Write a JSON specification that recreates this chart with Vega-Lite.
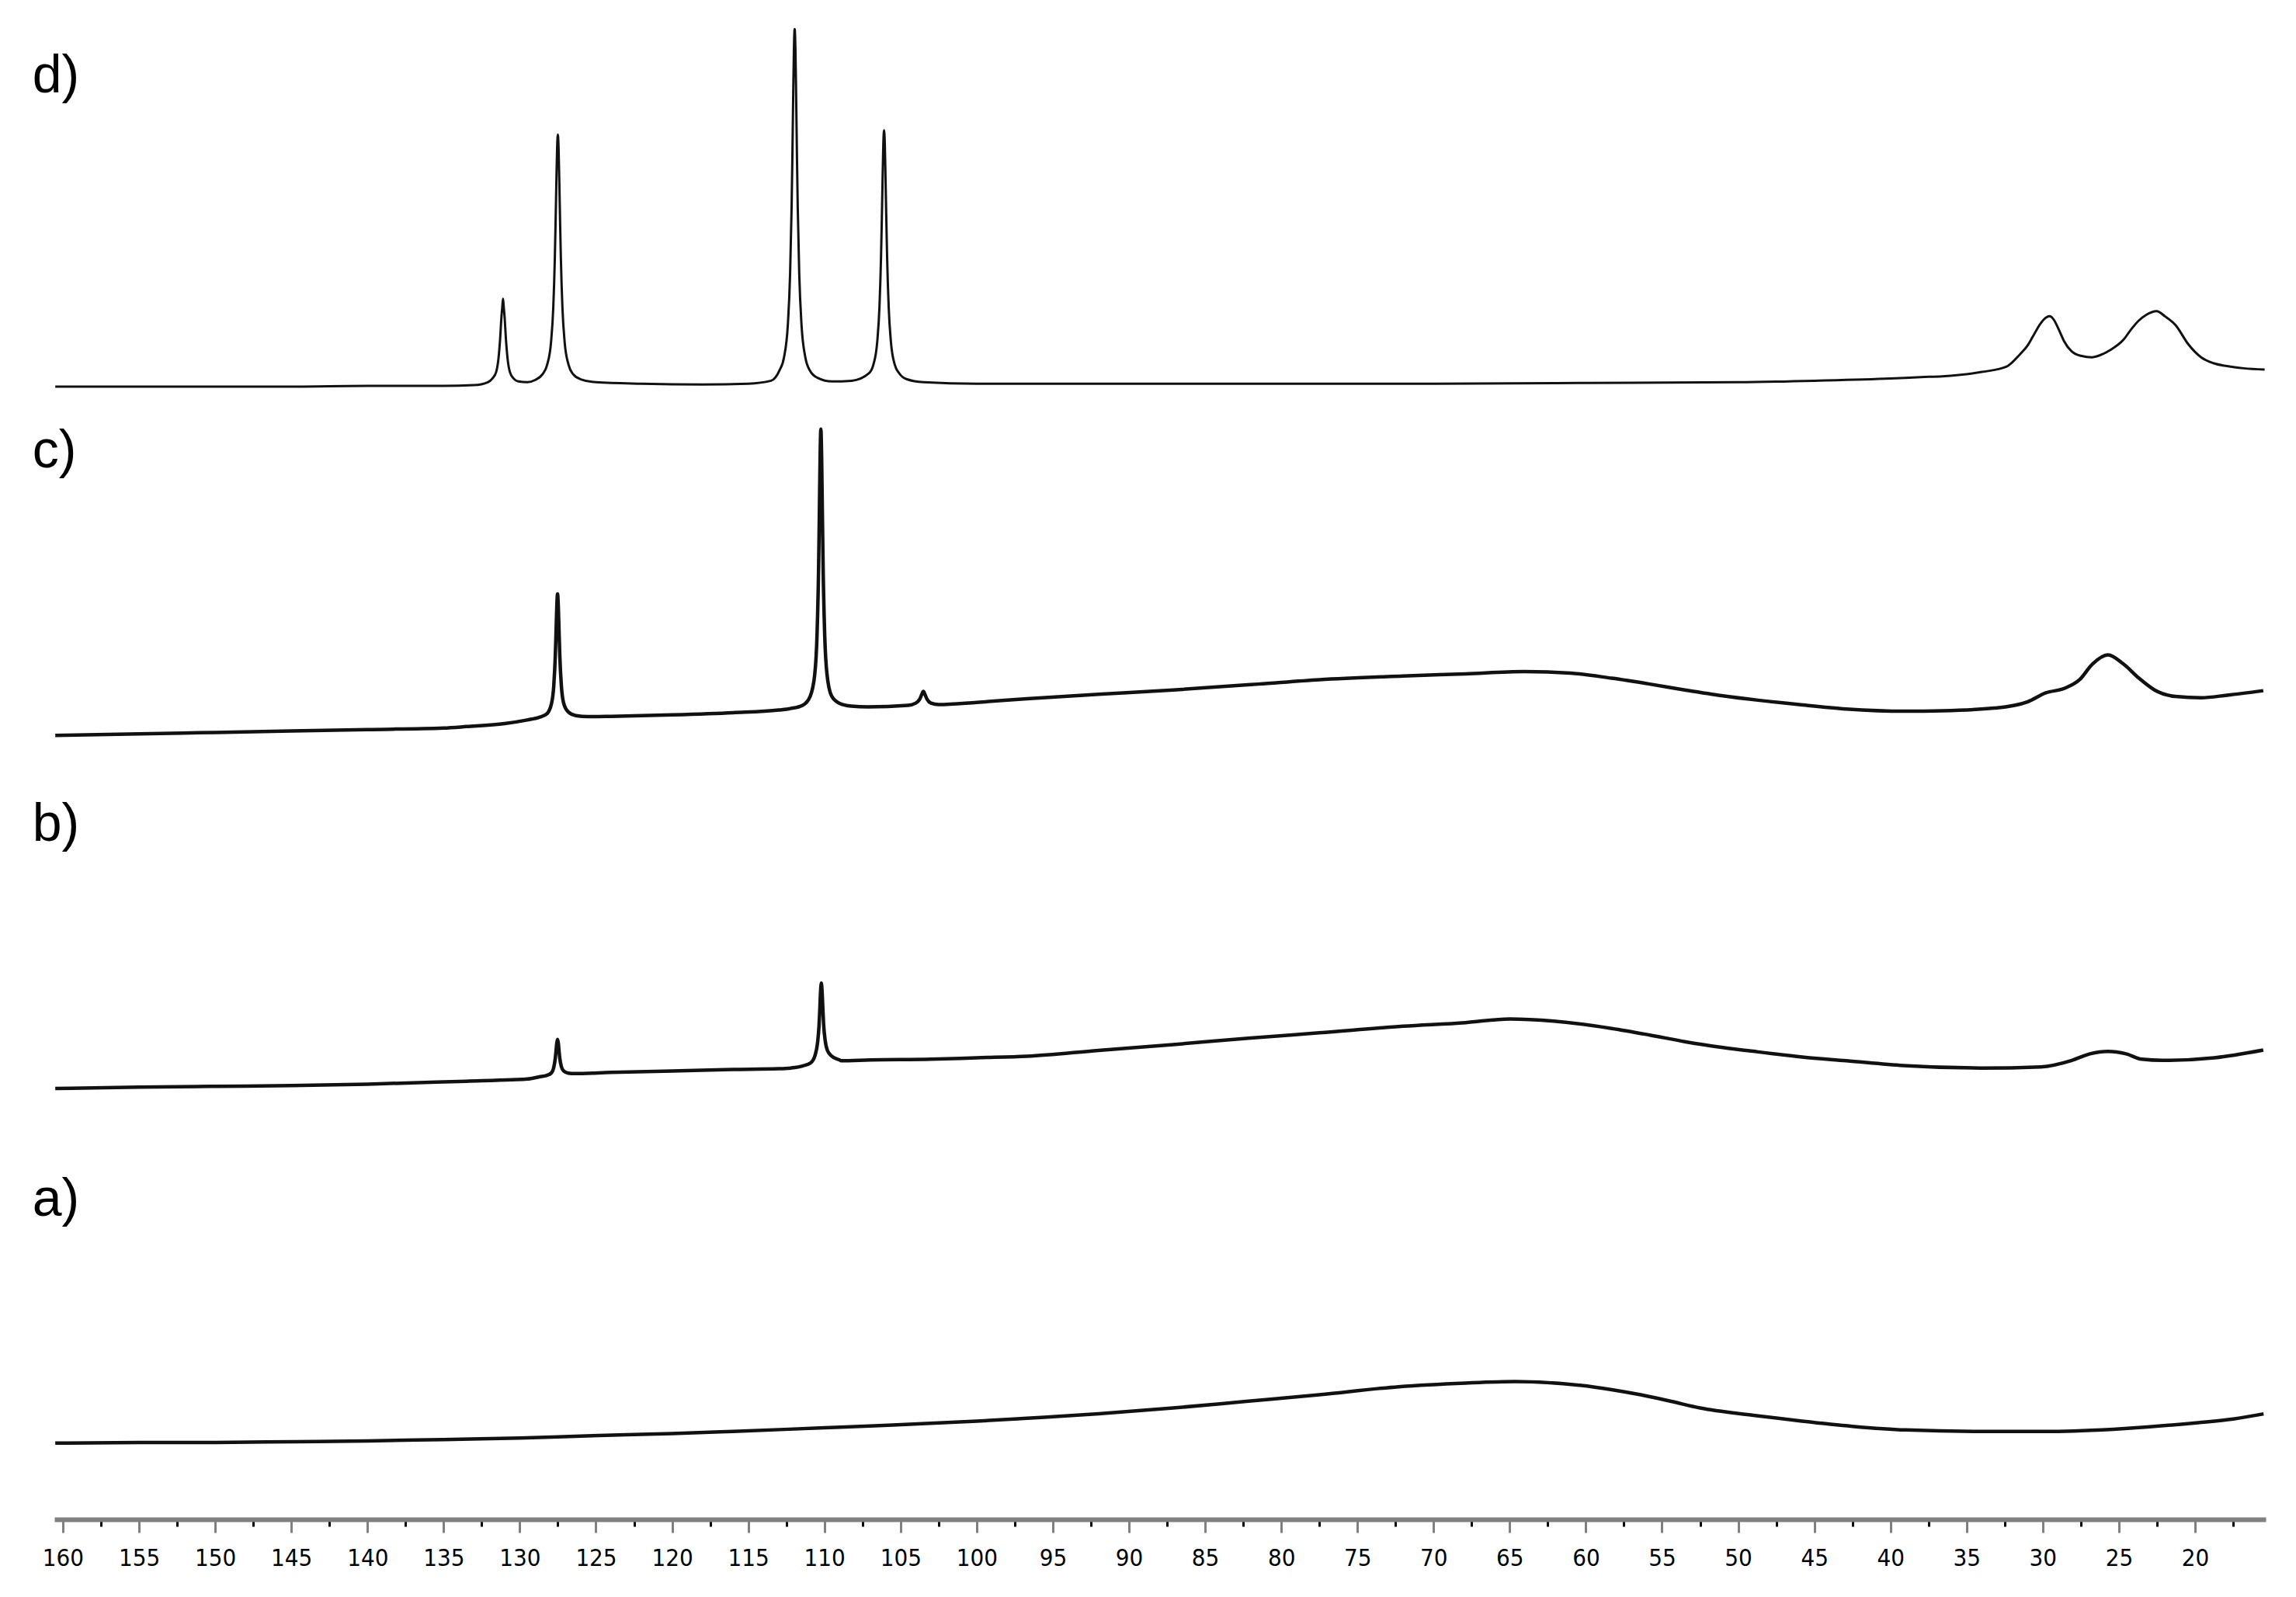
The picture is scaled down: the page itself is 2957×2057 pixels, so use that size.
{
  "$schema": "https://vega.github.io/schema/vega-lite/v6.json",
  "autosize": {"type": "pad"},
  "padding": {"left": 41, "top": 35, "right": 38, "bottom": 20},
  "background": "white",
  "bounds": "flush",
  "datasets": {
    "spectra": [
      {"spectrum":"d","ppm":160.5,"intensity":3},{"spectrum":"d","ppm":155,"intensity":3},{"spectrum":"d","ppm":150,"intensity":3},{"spectrum":"d","ppm":145,"intensity":3},{"spectrum":"d","ppm":140,"intensity":3.5},{"spectrum":"d","ppm":135,"intensity":3.5},{"spectrum":"d","ppm":133,"intensity":4},{"spectrum":"d","ppm":132.1,"intensity":6},{"spectrum":"d","ppm":131.8,"intensity":8.5},{"spectrum":"d","ppm":131.55,"intensity":13},{"spectrum":"d","ppm":131.4,"intensity":22},{"spectrum":"d","ppm":131.3,"intensity":34},{"spectrum":"d","ppm":131.2,"intensity":51},{"spectrum":"d","ppm":131.15,"intensity":57},{"spectrum":"d","ppm":131.1,"intensity":63},{"spectrum":"d","ppm":131.05,"intensity":57},{"spectrum":"d","ppm":131.0,"intensity":51},{"spectrum":"d","ppm":130.9,"intensity":34},{"spectrum":"d","ppm":130.8,"intensity":22},{"spectrum":"d","ppm":130.65,"intensity":13},{"spectrum":"d","ppm":130.4,"intensity":8.5},{"spectrum":"d","ppm":130.1,"intensity":6.5},{"spectrum":"d","ppm":129.5,"intensity":6},{"spectrum":"d","ppm":129.0,"intensity":7.5},{"spectrum":"d","ppm":128.5,"intensity":11.5},{"spectrum":"d","ppm":128.2,"intensity":18},{"spectrum":"d","ppm":127.95,"intensity":33},{"spectrum":"d","ppm":127.8,"intensity":57},{"spectrum":"d","ppm":127.7,"intensity":90},{"spectrum":"d","ppm":127.65,"intensity":114},{"spectrum":"d","ppm":127.6,"intensity":141},{"spectrum":"d","ppm":127.55,"intensity":165},{"spectrum":"d","ppm":127.5,"intensity":175},{"spectrum":"d","ppm":127.45,"intensity":165},{"spectrum":"d","ppm":127.4,"intensity":141},{"spectrum":"d","ppm":127.35,"intensity":114},{"spectrum":"d","ppm":127.3,"intensity":90},{"spectrum":"d","ppm":127.2,"intensity":57},{"spectrum":"d","ppm":127.05,"intensity":33},{"spectrum":"d","ppm":126.8,"intensity":18},{"spectrum":"d","ppm":126.5,"intensity":11.5},{"spectrum":"d","ppm":126.0,"intensity":8},{"spectrum":"d","ppm":125.0,"intensity":6},{"spectrum":"d","ppm":122,"intensity":5},{"spectrum":"d","ppm":118,"intensity":4.5},{"spectrum":"d","ppm":115,"intensity":5},{"spectrum":"d","ppm":113.5,"intensity":7},{"spectrum":"d","ppm":112.95,"intensity":14},{"spectrum":"d","ppm":112.65,"intensity":23},{"spectrum":"d","ppm":112.4,"intensity":45},{"spectrum":"d","ppm":112.25,"intensity":80},{"spectrum":"d","ppm":112.15,"intensity":126},{"spectrum":"d","ppm":112.1,"intensity":160},{"spectrum":"d","ppm":112.05,"intensity":199},{"spectrum":"d","ppm":112.0,"intensity":233},{"spectrum":"d","ppm":111.95,"intensity":247},{"spectrum":"d","ppm":111.9,"intensity":233},{"spectrum":"d","ppm":111.85,"intensity":199},{"spectrum":"d","ppm":111.8,"intensity":160},{"spectrum":"d","ppm":111.75,"intensity":126},{"spectrum":"d","ppm":111.65,"intensity":80},{"spectrum":"d","ppm":111.5,"intensity":45},{"spectrum":"d","ppm":111.25,"intensity":23},{"spectrum":"d","ppm":110.95,"intensity":14},{"spectrum":"d","ppm":110.45,"intensity":9},{"spectrum":"d","ppm":109.5,"intensity":6.5},{"spectrum":"d","ppm":108.2,"intensity":7},{"spectrum":"d","ppm":107.08,"intensity":12},{"spectrum":"d","ppm":106.78,"intensity":18},{"spectrum":"d","ppm":106.53,"intensity":33.5},{"spectrum":"d","ppm":106.38,"intensity":58},{"spectrum":"d","ppm":106.28,"intensity":91.5},{"spectrum":"d","ppm":106.23,"intensity":116},{"spectrum":"d","ppm":106.18,"intensity":143},{"spectrum":"d","ppm":106.13,"intensity":168},{"spectrum":"d","ppm":106.08,"intensity":178},{"spectrum":"d","ppm":106.03,"intensity":168},{"spectrum":"d","ppm":105.98,"intensity":143},{"spectrum":"d","ppm":105.93,"intensity":116},{"spectrum":"d","ppm":105.88,"intensity":91.5},{"spectrum":"d","ppm":105.78,"intensity":58},{"spectrum":"d","ppm":105.63,"intensity":33.5},{"spectrum":"d","ppm":105.38,"intensity":18},{"spectrum":"d","ppm":105.08,"intensity":12},{"spectrum":"d","ppm":104.58,"intensity":8},{"spectrum":"d","ppm":103.5,"intensity":6},{"spectrum":"d","ppm":100,"intensity":5},{"spectrum":"d","ppm":90,"intensity":5},{"spectrum":"d","ppm":80,"intensity":5},{"spectrum":"d","ppm":70,"intensity":5},{"spectrum":"d","ppm":60,"intensity":5.5},{"spectrum":"d","ppm":50,"intensity":6},{"spectrum":"d","ppm":45,"intensity":7},{"spectrum":"d","ppm":40,"intensity":8.5},{"spectrum":"d","ppm":38,"intensity":9.5},{"spectrum":"d","ppm":36.6,"intensity":10},{"spectrum":"d","ppm":34,"intensity":13},{"spectrum":"d","ppm":32.4,"intensity":16.5},{"spectrum":"d","ppm":31.5,"intensity":25},{"spectrum":"d","ppm":31.0,"intensity":31},{"spectrum":"d","ppm":30.66,"intensity":37},{"spectrum":"d","ppm":30.15,"intensity":46},{"spectrum":"d","ppm":29.8,"intensity":50},{"spectrum":"d","ppm":29.55,"intensity":51},{"spectrum":"d","ppm":29.3,"intensity":49},{"spectrum":"d","ppm":28.95,"intensity":42},{"spectrum":"d","ppm":28.6,"intensity":34},{"spectrum":"d","ppm":28.1,"intensity":27},{"spectrum":"d","ppm":27.5,"intensity":24},{"spectrum":"d","ppm":26.75,"intensity":23},{"spectrum":"d","ppm":26.0,"intensity":25.5},{"spectrum":"d","ppm":25.56,"intensity":28},{"spectrum":"d","ppm":24.7,"intensity":35},{"spectrum":"d","ppm":24.2,"intensity":42},{"spectrum":"d","ppm":23.7,"intensity":48},{"spectrum":"d","ppm":23.2,"intensity":52},{"spectrum":"d","ppm":22.52,"intensity":54.5},{"spectrum":"d","ppm":21.98,"intensity":51},{"spectrum":"d","ppm":21.28,"intensity":45},{"spectrum":"d","ppm":20.45,"intensity":32},{"spectrum":"d","ppm":19.6,"intensity":23},{"spectrum":"d","ppm":18.8,"intensity":19},{"spectrum":"d","ppm":17.9,"intensity":17},{"spectrum":"d","ppm":16.8,"intensity":15.5},{"spectrum":"d","ppm":15.43,"intensity":14.6},

      {"spectrum":"c","ppm":160.5,"intensity":5},{"spectrum":"c","ppm":155,"intensity":6},{"spectrum":"c","ppm":150,"intensity":7},{"spectrum":"c","ppm":145,"intensity":8},{"spectrum":"c","ppm":140,"intensity":9},{"spectrum":"c","ppm":135,"intensity":10},{"spectrum":"c","ppm":133.5,"intensity":11},{"spectrum":"c","ppm":131,"intensity":13},{"spectrum":"c","ppm":129.52,"intensity":15.5},{"spectrum":"c","ppm":128.72,"intensity":17.3},{"spectrum":"c","ppm":128.22,"intensity":19.7},{"spectrum":"c","ppm":127.92,"intensity":26.5},{"spectrum":"c","ppm":127.77,"intensity":38.5},{"spectrum":"c","ppm":127.67,"intensity":58.5},{"spectrum":"c","ppm":127.62,"intensity":74.8},{"spectrum":"c","ppm":127.57,"intensity":92.5},{"spectrum":"c","ppm":127.52,"intensity":101.5},{"spectrum":"c","ppm":127.47,"intensity":93},{"spectrum":"c","ppm":127.42,"intensity":75.5},{"spectrum":"c","ppm":127.37,"intensity":59},{"spectrum":"c","ppm":127.27,"intensity":39},{"spectrum":"c","ppm":127.12,"intensity":27},{"spectrum":"c","ppm":126.82,"intensity":21},{"spectrum":"c","ppm":126.32,"intensity":18.5},{"spectrum":"c","ppm":125.52,"intensity":17.8},{"spectrum":"c","ppm":124,"intensity":18},{"spectrum":"c","ppm":120,"intensity":19},{"spectrum":"c","ppm":116,"intensity":20.5},{"spectrum":"c","ppm":113,"intensity":22.3},{"spectrum":"c","ppm":112.23,"intensity":23.3},{"spectrum":"c","ppm":111.43,"intensity":25.5},{"spectrum":"c","ppm":110.93,"intensity":31.7},{"spectrum":"c","ppm":110.63,"intensity":46.8},{"spectrum":"c","ppm":110.48,"intensity":74},{"spectrum":"c","ppm":110.38,"intensity":118.5},{"spectrum":"c","ppm":110.33,"intensity":155.5},{"spectrum":"c","ppm":110.28,"intensity":195},{"spectrum":"c","ppm":110.23,"intensity":214},{"spectrum":"c","ppm":110.18,"intensity":195},{"spectrum":"c","ppm":110.13,"intensity":155.5},{"spectrum":"c","ppm":110.08,"intensity":118.5},{"spectrum":"c","ppm":109.98,"intensity":74},{"spectrum":"c","ppm":109.83,"intensity":47},{"spectrum":"c","ppm":109.53,"intensity":32},{"spectrum":"c","ppm":109.03,"intensity":27},{"spectrum":"c","ppm":108.23,"intensity":25},{"spectrum":"c","ppm":107.15,"intensity":24.5},{"spectrum":"c","ppm":104.5,"intensity":25.5},{"spectrum":"c","ppm":104.0,"intensity":27},{"spectrum":"c","ppm":103.75,"intensity":29.5},{"spectrum":"c","ppm":103.6,"intensity":33},{"spectrum":"c","ppm":103.5,"intensity":35},{"spectrum":"c","ppm":103.4,"intensity":33},{"spectrum":"c","ppm":103.25,"intensity":29.5},{"spectrum":"c","ppm":103.0,"intensity":27},{"spectrum":"c","ppm":102.5,"intensity":26},{"spectrum":"c","ppm":100,"intensity":27.5},{"spectrum":"c","ppm":96.7,"intensity":30},{"spectrum":"c","ppm":92,"intensity":33},{"spectrum":"c","ppm":87.1,"intensity":36},{"spectrum":"c","ppm":81.5,"intensity":40},{"spectrum":"c","ppm":77.5,"intensity":43},{"spectrum":"c","ppm":72,"intensity":45.5},{"spectrum":"c","ppm":67.9,"intensity":47},{"spectrum":"c","ppm":64.06,"intensity":48.5},{"spectrum":"c","ppm":61,"intensity":47.5},{"spectrum":"c","ppm":58.3,"intensity":44},{"spectrum":"c","ppm":55.8,"intensity":40},{"spectrum":"c","ppm":53.5,"intensity":36},{"spectrum":"c","ppm":51,"intensity":32},{"spectrum":"c","ppm":48.7,"intensity":29},{"spectrum":"c","ppm":46,"intensity":26},{"spectrum":"c","ppm":42.9,"intensity":23},{"spectrum":"c","ppm":39,"intensity":21.5},{"spectrum":"c","ppm":36.59,"intensity":21.8},{"spectrum":"c","ppm":33.19,"intensity":23.6},{"spectrum":"c","ppm":30.98,"intensity":28},{"spectrum":"c","ppm":29.8,"intensity":34},{"spectrum":"c","ppm":28.6,"intensity":37},{"spectrum":"c","ppm":27.58,"intensity":43},{"spectrum":"c","ppm":26.74,"intensity":53.7},{"spectrum":"c","ppm":25.72,"intensity":60},{"spectrum":"c","ppm":24.7,"intensity":53.7},{"spectrum":"c","ppm":23.68,"intensity":44},{"spectrum":"c","ppm":22.66,"intensity":36},{"spectrum":"c","ppm":21.3,"intensity":31.6},{"spectrum":"c","ppm":19.6,"intensity":30.7},{"spectrum":"c","ppm":17.9,"intensity":32.4},{"spectrum":"c","ppm":15.52,"intensity":35.5},

      {"spectrum":"b","ppm":160.5,"intensity":4},{"spectrum":"b","ppm":155,"intensity":5},{"spectrum":"b","ppm":150,"intensity":5.5},{"spectrum":"b","ppm":145,"intensity":6},{"spectrum":"b","ppm":140,"intensity":7},{"spectrum":"b","ppm":135,"intensity":8.5},{"spectrum":"b","ppm":133.5,"intensity":9},{"spectrum":"b","ppm":130.5,"intensity":10},{"spectrum":"b","ppm":129.5,"intensity":10.5},{"spectrum":"b","ppm":128.72,"intensity":12},{"spectrum":"b","ppm":128.22,"intensity":13},{"spectrum":"b","ppm":127.92,"intensity":14.7},{"spectrum":"b","ppm":127.77,"intensity":18.4},{"spectrum":"b","ppm":127.67,"intensity":24.5},{"spectrum":"b","ppm":127.62,"intensity":29.5},{"spectrum":"b","ppm":127.57,"intensity":35},{"spectrum":"b","ppm":127.52,"intensity":37.5},{"spectrum":"b","ppm":127.47,"intensity":35},{"spectrum":"b","ppm":127.42,"intensity":29.5},{"spectrum":"b","ppm":127.37,"intensity":24.5},{"spectrum":"b","ppm":127.27,"intensity":19},{"spectrum":"b","ppm":127.12,"intensity":16},{"spectrum":"b","ppm":126.82,"intensity":14.5},{"spectrum":"b","ppm":126.4,"intensity":14.2},{"spectrum":"b","ppm":124,"intensity":15},{"spectrum":"b","ppm":120,"intensity":16},{"spectrum":"b","ppm":116,"intensity":17},{"spectrum":"b","ppm":113,"intensity":17.5},{"spectrum":"b","ppm":112.2,"intensity":18},{"spectrum":"b","ppm":111.4,"intensity":19.5},{"spectrum":"b","ppm":110.9,"intensity":21.5},{"spectrum":"b","ppm":110.6,"intensity":27},{"spectrum":"b","ppm":110.45,"intensity":35},{"spectrum":"b","ppm":110.35,"intensity":47},{"spectrum":"b","ppm":110.3,"intensity":58},{"spectrum":"b","ppm":110.25,"intensity":70},{"spectrum":"b","ppm":110.2,"intensity":76},{"spectrum":"b","ppm":110.15,"intensity":70},{"spectrum":"b","ppm":110.1,"intensity":58.5},{"spectrum":"b","ppm":110.05,"intensity":48},{"spectrum":"b","ppm":109.95,"intensity":37},{"spectrum":"b","ppm":109.8,"intensity":30},{"spectrum":"b","ppm":109.5,"intensity":26},{"spectrum":"b","ppm":109.0,"intensity":23.5},{"spectrum":"b","ppm":108.9,"intensity":23},{"spectrum":"b","ppm":107,"intensity":23.5},{"spectrum":"b","ppm":103,"intensity":24},{"spectrum":"b","ppm":100,"intensity":25},{"spectrum":"b","ppm":96.7,"intensity":26},{"spectrum":"b","ppm":92,"intensity":30},{"spectrum":"b","ppm":87.1,"intensity":34},{"spectrum":"b","ppm":82,"intensity":38.5},{"spectrum":"b","ppm":77.5,"intensity":42},{"spectrum":"b","ppm":72,"intensity":46.5},{"spectrum":"b","ppm":67.9,"intensity":49},{"spectrum":"b","ppm":65,"intensity":51.5},{"spectrum":"b","ppm":62.1,"intensity":50},{"spectrum":"b","ppm":58.3,"intensity":45},{"spectrum":"b","ppm":55.8,"intensity":40.5},{"spectrum":"b","ppm":53.5,"intensity":36},{"spectrum":"b","ppm":51,"intensity":32},{"spectrum":"b","ppm":48.7,"intensity":29},{"spectrum":"b","ppm":45.8,"intensity":25.5},{"spectrum":"b","ppm":42.9,"intensity":23},{"spectrum":"b","ppm":39.15,"intensity":19.7},{"spectrum":"b","ppm":34.04,"intensity":18},{"spectrum":"b","ppm":30.13,"intensity":18.8},{"spectrum":"b","ppm":28.09,"intensity":23.2},{"spectrum":"b","ppm":26.9,"intensity":27.7},{"spectrum":"b","ppm":25.72,"intensity":29.4},{"spectrum":"b","ppm":24.53,"intensity":27.7},{"spectrum":"b","ppm":23.5,"intensity":24},{"spectrum":"b","ppm":22.14,"intensity":23.2},{"spectrum":"b","ppm":18.74,"intensity":25},{"spectrum":"b","ppm":15.52,"intensity":30.3},

      {"spectrum":"a","ppm":160.5,"intensity":2},{"spectrum":"a","ppm":155,"intensity":2.5},{"spectrum":"a","ppm":150,"intensity":2.5},{"spectrum":"a","ppm":144.8,"intensity":3},{"spectrum":"a","ppm":140,"intensity":3.5},{"spectrum":"a","ppm":135,"intensity":4.5},{"spectrum":"a","ppm":130,"intensity":5.5},{"spectrum":"a","ppm":125.6,"intensity":7},{"spectrum":"a","ppm":120,"intensity":8.5},{"spectrum":"a","ppm":116,"intensity":10},{"spectrum":"a","ppm":110,"intensity":12.5},{"spectrum":"a","ppm":106.4,"intensity":14},{"spectrum":"a","ppm":100,"intensity":17},{"spectrum":"a","ppm":96.7,"intensity":19},{"spectrum":"a","ppm":92,"intensity":22},{"spectrum":"a","ppm":87.1,"intensity":26},{"spectrum":"a","ppm":82.3,"intensity":30.5},{"spectrum":"a","ppm":77.5,"intensity":35},{"spectrum":"a","ppm":72.3,"intensity":40.5},{"spectrum":"a","ppm":67.9,"intensity":43},{"spectrum":"a","ppm":64.63,"intensity":44},{"spectrum":"a","ppm":60.4,"intensity":41.5},{"spectrum":"a","ppm":58.3,"intensity":38.5},{"spectrum":"a","ppm":56.4,"intensity":35},{"spectrum":"a","ppm":54.4,"intensity":30.5},{"spectrum":"a","ppm":52.5,"intensity":26},{"spectrum":"a","ppm":49,"intensity":21},{"spectrum":"a","ppm":45.8,"intensity":17},{"spectrum":"a","ppm":42.5,"intensity":13.5},{"spectrum":"a","ppm":39,"intensity":11},{"spectrum":"a","ppm":34,"intensity":10},{"spectrum":"a","ppm":29.4,"intensity":10},{"spectrum":"a","ppm":24.6,"intensity":12},{"spectrum":"a","ppm":19.8,"intensity":16},{"spectrum":"a","ppm":17.5,"intensity":18.5},{"spectrum":"a","ppm":15.5,"intensity":22}
    ],
    "labels": [
      {"spectrum":"d","ppm":162,"intensity":204,"label":"d)"},
      {"spectrum":"c","ppm":162,"intensity":188,"label":"c)"},
      {"spectrum":"b","ppm":162,"intensity":173,"label":"b)"},
      {"spectrum":"a","ppm":162,"intensity":157,"label":"a)"}
    ]
  },
  "spacing": 0,
  "vconcat": [
    {
      "width": 2848, "height": 453,
      "layer": [
        {
          "data": {"name": "spectra"},
          "transform": [{"filter": "datum.spectrum === 'd'"}],
          "mark": {"type": "line", "color": "#111111", "strokeWidth": 3, "strokeJoin": "round", "interpolate": "monotone"},
          "encoding": {
            "x": {"field": "ppm", "type": "quantitative", "title": null, "scale": {"domain": [15.36, 160.56], "reverse": true, "nice": false, "zero": false}, "axis": null},
            "y": {"field": "intensity", "type": "quantitative", "scale": {"domain": [-50, 190], "nice": false, "zero": false}, "axis": null}
          }
        },
        {
          "data": {"name": "labels"},
          "transform": [{"filter": "datum.spectrum === 'd'"}],
          "mark": {"type": "text", "align": "left", "baseline": "alphabetic", "font": "Liberation Sans", "fontSize": 68, "color": "#000000"},
          "encoding": {
            "x": {"field": "ppm", "type": "quantitative", "scale": {"domain": [15.36, 160.56], "reverse": true, "nice": false, "zero": false}, "axis": null},
            "y": {"field": "intensity", "type": "quantitative", "scale": {"domain": [-50, 190], "nice": false, "zero": false}, "axis": null},
            "text": {"field": "label"}
          }
        }
      ]
    },
    {
      "width": 2848, "height": 453,
      "layer": [
        {
          "data": {"name": "spectra"},
          "transform": [{"filter": "datum.spectrum === 'c'"}],
          "mark": {"type": "line", "color": "#111111", "strokeWidth": 4.5, "strokeJoin": "round", "interpolate": "monotone"},
          "encoding": {
            "x": {"field": "ppm", "type": "quantitative", "title": null, "scale": {"domain": [15.36, 160.56], "reverse": true, "nice": false, "zero": false}, "axis": null},
            "y": {"field": "intensity", "type": "quantitative", "scale": {"domain": [-50, 190], "nice": false, "zero": false}, "axis": null}
          }
        },
        {
          "data": {"name": "labels"},
          "transform": [{"filter": "datum.spectrum === 'c'"}],
          "mark": {"type": "text", "align": "left", "baseline": "alphabetic", "font": "Liberation Sans", "fontSize": 68, "color": "#000000"},
          "encoding": {
            "x": {"field": "ppm", "type": "quantitative", "scale": {"domain": [15.36, 160.56], "reverse": true, "nice": false, "zero": false}, "axis": null},
            "y": {"field": "intensity", "type": "quantitative", "scale": {"domain": [-50, 190], "nice": false, "zero": false}, "axis": null},
            "text": {"field": "label"}
          }
        }
      ]
    },
    {
      "width": 2848, "height": 453,
      "layer": [
        {
          "data": {"name": "spectra"},
          "transform": [{"filter": "datum.spectrum === 'b'"}],
          "mark": {"type": "line", "color": "#111111", "strokeWidth": 4.5, "strokeJoin": "round", "interpolate": "monotone"},
          "encoding": {
            "x": {"field": "ppm", "type": "quantitative", "title": null, "scale": {"domain": [15.36, 160.56], "reverse": true, "nice": false, "zero": false}, "axis": null},
            "y": {"field": "intensity", "type": "quantitative", "scale": {"domain": [-50, 190], "nice": false, "zero": false}, "axis": null}
          }
        },
        {
          "data": {"name": "labels"},
          "transform": [{"filter": "datum.spectrum === 'b'"}],
          "mark": {"type": "text", "align": "left", "baseline": "alphabetic", "font": "Liberation Sans", "fontSize": 68, "color": "#000000"},
          "encoding": {
            "x": {"field": "ppm", "type": "quantitative", "scale": {"domain": [15.36, 160.56], "reverse": true, "nice": false, "zero": false}, "axis": null},
            "y": {"field": "intensity", "type": "quantitative", "scale": {"domain": [-50, 190], "nice": false, "zero": false}, "axis": null},
            "text": {"field": "label"}
          }
        }
      ]
    },
    {
      "width": 2848, "height": 453,
      "layer": [
        {
          "data": {"name": "spectra"},
          "transform": [{"filter": "datum.spectrum === 'a'"}],
          "mark": {"type": "line", "color": "#111111", "strokeWidth": 4.5, "strokeJoin": "round", "interpolate": "monotone"},
          "encoding": {
            "x": {
              "field": "ppm", "type": "quantitative", "title": null,
              "scale": {"domain": [15.36, 160.56], "reverse": true, "nice": false, "zero": false},
              "axis": {
                "values": [17.5,20,22.5,25,27.5,30,32.5,35,37.5,40,42.5,45,47.5,50,52.5,55,57.5,60,62.5,65,67.5,70,72.5,75,77.5,80,82.5,85,87.5,90,92.5,95,97.5,100,102.5,105,107.5,110,112.5,115,117.5,120,122.5,125,127.5,130,132.5,135,137.5,140,142.5,145,147.5,150,152.5,155,157.5,160],
                "format": "d",
                "labelExpr": "datum.value % 5 === 0 ? datum.label : ''",
                "labelOverlap": false,
                "labelFlush": false,
                "labelFont": "DejaVu Sans Condensed, Liberation Sans, sans-serif",
                "labelFontSize": 31,
                "labelColor": "#000000",
                "labelPadding": 18,
                "domainColor": "#808080",
                "domainWidth": 6,
                "domainCap": "butt",
                "tickSize": {"condition": {"test": "datum.value % 5 === 0", "value": 17}, "value": 9},
                "tickColor": {"condition": {"test": "datum.value % 5 === 0", "value": "#808080"}, "value": "#000000"},
                "tickWidth": 3,
                "grid": false
              }
            },
            "y": {"field": "intensity", "type": "quantitative", "scale": {"domain": [-50, 190], "nice": false, "zero": false}, "axis": null}
          }
        },
        {
          "data": {"name": "labels"},
          "transform": [{"filter": "datum.spectrum === 'a'"}],
          "mark": {"type": "text", "align": "left", "baseline": "alphabetic", "font": "Liberation Sans", "fontSize": 68, "color": "#000000"},
          "encoding": {
            "x": {"field": "ppm", "type": "quantitative", "scale": {"domain": [15.36, 160.56], "reverse": true, "nice": false, "zero": false}},
            "y": {"field": "intensity", "type": "quantitative", "scale": {"domain": [-50, 190], "nice": false, "zero": false}, "axis": null},
            "text": {"field": "label"}
          }
        }
      ]
    }
  ],
  "config": {"view": {"stroke": null}, "axis": {"grid": false}}
}
